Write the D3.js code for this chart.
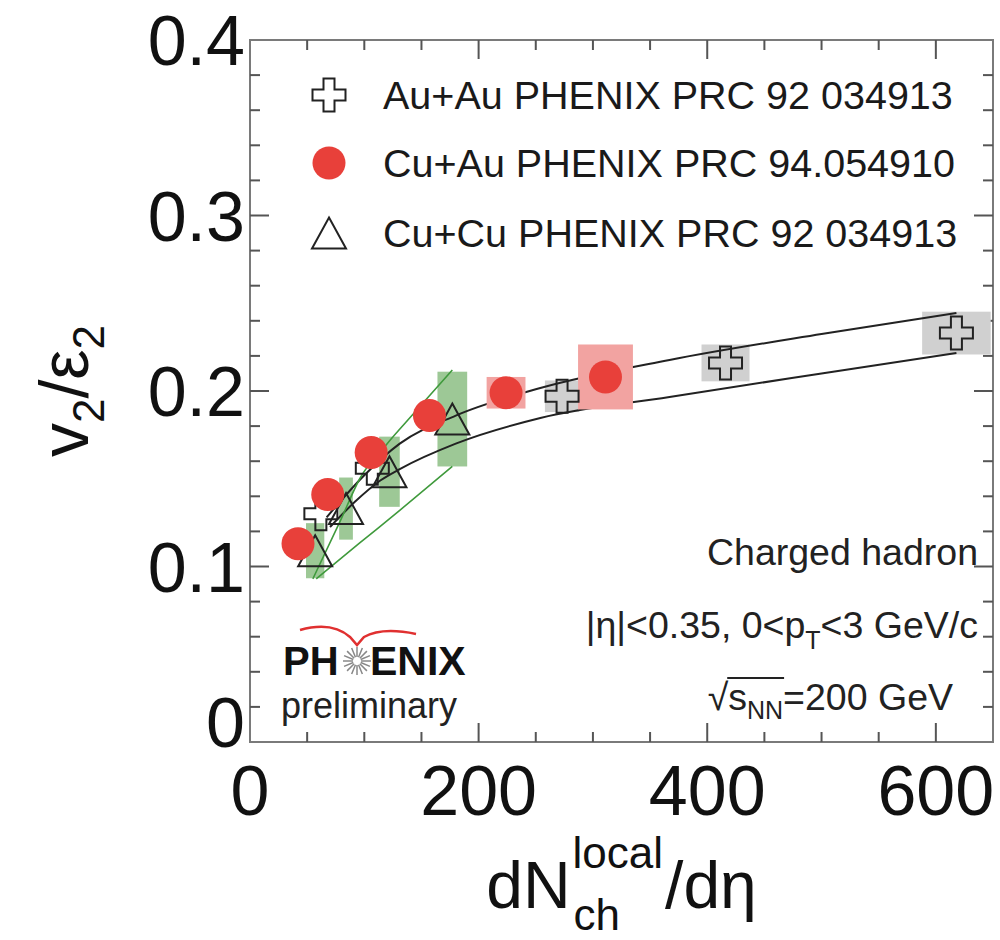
<!DOCTYPE html>
<html>
<head>
<meta charset="utf-8">
<script src="https://cdn.jsdelivr.net/npm/d3@7"></script>
<style>
  body { margin: 0; background: #fff; }
  svg text { font-family: "Liberation Sans", Arial, Helvetica, sans-serif; }
</style>
</head>
<body>
<div id="root"></div>
<script>
const svgWidth = 1000;
const svgHeight = 940;

// Au+Au (open crosses, grey systematic boxes)
const auX = [62, 107, 273, 416, 618];
const auY = [0.130, 0.156, 0.197, 0.216, 0.233];
const auSysX = [0, 0, 15, 21, 30];
const auSysY = [0, 0, 0.009, 0.0105, 0.0122];

// Cu+Au (red circles, pink systematic boxes)
const cuauX = [42, 68, 106, 157, 224, 311];
const cuauY = [0.113, 0.141, 0.165, 0.186, 0.199, 0.208];
const cuauSysX = [0, 0, 0, 0, 17, 24];
const cuauSysY = [0, 0, 0, 0, 0.009, 0.0185];

// Cu+Cu (open triangles, green systematic boxes)
const cucuX = [57, 84, 122, 177];
const cucuY = [0.109, 0.133, 0.154, 0.184];
const cucuSysX = [8, 6, 9, 13];
const cucuSysY = [0.0157, 0.0177, 0.020, 0.027];

// black band (Au+Au / Cu+Au)
const bandUpX = [67, 100, 131, 180, 254, 367, 500, 618];
const bandUpY = [0.128, 0.152, 0.170, 0.186, 0.2017, 0.2177, 0.2325, 0.2445];
const bandLoX = [70, 92, 114, 131, 180, 254, 367, 500, 618];
const bandLoY = [0.1225, 0.137, 0.149, 0.1555, 0.170, 0.1846, 0.1966, 0.2100, 0.2217];

// green band (Cu+Cu)
const greenUpX = [55, 79, 96, 120, 143, 177];
const greenUpY = [0.093, 0.126, 0.150, 0.170, 0.187, 0.212];
const greenLoX = [58, 96, 131, 177];
const greenLoY = [0.093, 0.1134, 0.132, 0.157];

const xTicks = [0, 200, 400, 600];
const yTicks = [0, 0.1, 0.2, 0.3, 0.4];

const legendLabels = [
  "Au+Au PHENIX PRC 92 034913",
  "Cu+Au PHENIX PRC 94.054910",
  "Cu+Cu PHENIX PRC 92 034913"
];

const redColor = "#e8403a";
const pinkColor = "#f2a3a1";
const greenBox = "#9dc896";
const greyBox = "#d0d0d0";
const greenLine = "#3f9a3c";

const plot = { left: 250, right: 993, top: 40, bottom: 742 };

const xScale = d3.scaleLinear().domain([0, 650]).range([plot.left, plot.right]);
const yScale = d3.scaleLinear().domain([0, 0.4]).range([plot.bottom, plot.top]);

const mainSvg = d3.select("#root")
  .append("svg")
  .attr("width", svgWidth)
  .attr("height", svgHeight);

// frame
mainSvg.append("rect")
  .attr("x", plot.left).attr("y", plot.top)
  .attr("width", plot.right - plot.left)
  .attr("height", plot.bottom - plot.top)
  .attr("fill", "none")
  .attr("stroke", "#7a7a7a")
  .attr("stroke-width", 2);

// ticks on all four sides (major + minor)
const xMinor = d3.range(50, 650, 50).filter(d => d % 200 !== 0);
const yMinor = d3.range(0.02, 0.4, 0.02).filter(d => Math.abs(d * 10 - Math.round(d * 10)) > 1e-6);

const tickG = mainSvg.append("g").attr("stroke", "#555").attr("stroke-width", 2);
const addXTicks = (vals, len) => {
  vals.forEach(v => {
    tickG.append("line").attr("x1", xScale(v)).attr("x2", xScale(v))
      .attr("y1", plot.bottom).attr("y2", plot.bottom - len);
    tickG.append("line").attr("x1", xScale(v)).attr("x2", xScale(v))
      .attr("y1", plot.top).attr("y2", plot.top + len);
  });
};
const addYTicks = (vals, len) => {
  vals.forEach(v => {
    tickG.append("line").attr("y1", yScale(v)).attr("y2", yScale(v))
      .attr("x1", plot.left).attr("x2", plot.left + len);
    tickG.append("line").attr("y1", yScale(v)).attr("y2", yScale(v))
      .attr("x1", plot.right).attr("x2", plot.right - len);
  });
};
addXTicks(xTicks.filter(d => d > 0), 19);
addXTicks(xMinor, 10);
addYTicks(yTicks.filter(d => d > 0 && d < 0.4), 19);
addYTicks(yMinor, 10);

// tick labels
mainSvg.selectAll(".xlab")
  .data(xTicks)
  .join("text")
  .attr("class", "xlab")
  .attr("x", d => xScale(d))
  .attr("y", plot.bottom + 73)
  .attr("text-anchor", "middle")
  .attr("font-size", "70px")
  .attr("fill", "#111")
  .text(d => d);

mainSvg.selectAll(".ylab")
  .data(yTicks)
  .join("text")
  .attr("class", "ylab")
  .attr("x", plot.left - 5)
  .attr("y", d => yScale(d) + (d === 0 ? 5 : 25))
  .attr("text-anchor", "end")
  .attr("font-size", "70px")
  .attr("fill", "#111")
  .text(d => d === 0 ? "0" : d.toFixed(1));

// x axis title, built piece by piece and centred on the axis
const xTitle = mainSvg.append("g").attr("fill", "#111");
const tDN = xTitle.append("text").attr("y", 908).attr("font-size", "66px").text("dN");
const wDN = tDN.node().getComputedTextLength();
const tLocal = xTitle.append("text").attr("x", wDN + 2).attr("y", 868).attr("font-size", "44px").text("local");
const tCh = xTitle.append("text").attr("x", wDN + 3).attr("y", 930).attr("font-size", "44px").text("ch");
const wSup = Math.max(tLocal.node().getComputedTextLength(), tCh.node().getComputedTextLength());
const tEnd = xTitle.append("text").attr("x", wDN + wSup + 4).attr("y", 908).attr("font-size", "66px").text("/dη");
const wAll = wDN + wSup + 4 + tEnd.node().getComputedTextLength();
xTitle.attr("transform", `translate(${(plot.left + plot.right) / 2 - wAll / 2},0)`);

// y axis title, centred on the axis
const yTitle = mainSvg.append("text")
  .attr("transform", `translate(88, ${(plot.top + plot.bottom) / 2}) rotate(-90)`)
  .attr("text-anchor", "middle")
  .attr("font-size", "68px")
  .attr("fill", "#111");
yTitle.append("tspan").text("v");
yTitle.append("tspan").attr("font-size", "44px").attr("dy", 16).text("2");
yTitle.append("tspan").attr("dy", -16).text("/ε");
yTitle.append("tspan").attr("font-size", "44px").attr("dy", 16).text("2");

// systematic boxes
const boxes = (xs, ys, sx, sy, color, cls) => {
  mainSvg.selectAll("." + cls)
    .data(xs.map((d, i) => ({ x: d, y: ys[i], sx: sx[i], sy: sy[i] })).filter(d => d.sx > 0))
    .join("rect")
    .attr("class", cls)
    .attr("x", d => xScale(d.x - d.sx))
    .attr("y", d => yScale(d.y + d.sy))
    .attr("width", d => xScale(d.x + d.sx) - xScale(d.x - d.sx))
    .attr("height", d => yScale(d.y - d.sy) - yScale(d.y + d.sy))
    .attr("fill", color);
};
boxes(auX, auY, auSysX, auSysY, greyBox, "aubox");
boxes(cucuX, cucuY, cucuSysX, cucuSysY, greenBox, "cucubox");

// band lines
const lineGen = d3.line()
  .x(d => xScale(d[0]))
  .y(d => yScale(d[1]))
  .curve(d3.curveMonotoneX);
const drawLine = (xs, ys, color, w) => {
  mainSvg.append("path")
    .datum(xs.map((d, i) => [d, ys[i]]))
    .attr("d", lineGen)
    .attr("fill", "none")
    .attr("stroke", color)
    .attr("stroke-width", w);
};
drawLine(bandUpX, bandUpY, "#222", 2);
drawLine(bandLoX, bandLoY, "#222", 2);
drawLine(greenUpX, greenUpY, greenLine, 1.6);
drawLine(greenLoX, greenLoY, greenLine, 1.6);

boxes(cuauX, cuauY, cuauSysX, cuauSysY, pinkColor, "cuaubox");

// markers
const crossPath = d3.symbol(d3.symbolCross, 605)();
const triPath = "M0,-15.5L17,15.5L-17,15.5Z";

mainSvg.selectAll(".tri")
  .data(cucuX.map((d, i) => [d, cucuY[i]]))
  .join("path")
  .attr("class", "tri")
  .attr("d", triPath)
  .attr("transform", d => `translate(${xScale(d[0])},${yScale(d[1])})`)
  .attr("fill", "none")
  .attr("stroke", "#222")
  .attr("stroke-width", 2);

mainSvg.selectAll(".cross")
  .data(auX.map((d, i) => [d, auY[i]]))
  .join("path")
  .attr("class", "cross")
  .attr("d", crossPath)
  .attr("transform", d => `translate(${xScale(d[0])},${yScale(d[1])})`)
  .attr("fill", "none")
  .attr("stroke", "#222")
  .attr("stroke-width", 2);

mainSvg.selectAll(".dot")
  .data(cuauX.map((d, i) => [d, cuauY[i]]))
  .join("circle")
  .attr("class", "dot")
  .attr("cx", d => xScale(d[0]))
  .attr("cy", d => yScale(d[1]))
  .attr("r", 16.5)
  .attr("fill", redColor);

// legend
const legendY = [95, 163, 233];
const legendX = 329;
mainSvg.append("path").attr("d", crossPath)
  .attr("transform", `translate(${legendX},${legendY[0]})`)
  .attr("fill", "#fff").attr("stroke", "#222").attr("stroke-width", 2);
mainSvg.append("circle").attr("cx", legendX).attr("cy", legendY[1]).attr("r", 16.5).attr("fill", redColor);
mainSvg.append("path").attr("d", triPath)
  .attr("transform", `translate(${legendX},${legendY[2]})`)
  .attr("fill", "none").attr("stroke", "#222").attr("stroke-width", 2);

mainSvg.selectAll(".legtext")
  .data(legendLabels)
  .join("text")
  .attr("class", "legtext")
  .attr("x", 383)
  .attr("y", (d, i) => legendY[i] + 14)
  .attr("font-size", "39.5px")
  .attr("fill", "#1a1a1a")
  .text(d => d);

// annotations
mainSvg.append("text")
  .attr("x", 978).attr("y", 565)
  .attr("text-anchor", "end")
  .attr("font-size", "37.5px")
  .attr("fill", "#222")
  .text("Charged hadron");

const etaText = mainSvg.append("text")
  .attr("x", 978).attr("y", 638)
  .attr("text-anchor", "end")
  .attr("font-size", "37.5px")
  .attr("fill", "#222");
etaText.append("tspan").text("|η|<0.35, 0<p");
etaText.append("tspan").attr("font-size", "25px").attr("dy", 11).text("T");
etaText.append("tspan").attr("dy", -11).text("<3 GeV/c");

const sBase = 710;
const sText = mainSvg.append("text")
  .attr("x", 953).attr("y", sBase)
  .attr("text-anchor", "end")
  .attr("font-size", "37.5px")
  .attr("fill", "#222");
sText.append("tspan").text("√");
sText.append("tspan").text("s");
sText.append("tspan").attr("font-size", "25px").attr("dy", 9).text("NN");
sText.append("tspan").attr("dy", -9).text("=200 GeV");
const sNode = sText.node();
const ovStart = sNode.getEndPositionOfChar(0).x - 1;
const ovEnd = sNode.getEndPositionOfChar(3).x + 1;
mainSvg.append("line")
  .attr("x1", ovStart).attr("x2", ovEnd)
  .attr("y1", sBase - 32).attr("y2", sBase - 32)
  .attr("stroke", "#222").attr("stroke-width", 1.8);

// PHENIX preliminary logo
const logo = mainSvg.append("g");
logo.append("path")
  .attr("d", "M300,630 Q332,621 350,637 L357,645 L364,637 Q382,627 416,634")
  .attr("fill", "none").attr("stroke", "#e03030").attr("stroke-width", 2.5);
logo.append("text").attr("x", 283).attr("y", 675)
  .attr("font-size", "40px").attr("font-weight", "bold").attr("fill", "#111").text("PH");
logo.append("text").attr("x", 370).attr("y", 675)
  .attr("font-size", "41px").attr("font-weight", "bold").attr("fill", "#111").text("ENIX");
const starG = logo.append("g").attr("transform", "translate(357,661)");
d3.range(16).forEach(i => {
  const a = i * Math.PI / 8;
  starG.append("line")
    .attr("x1", 4 * Math.cos(a)).attr("y1", 4 * Math.sin(a))
    .attr("x2", 14 * Math.cos(a)).attr("y2", 14 * Math.sin(a))
    .attr("stroke", "#888").attr("stroke-width", 1.5);
});
logo.append("text").attr("x", 281).attr("y", 718)
  .attr("font-size", "36px").attr("fill", "#222").text("preliminary");
</script>
</body>
</html>
